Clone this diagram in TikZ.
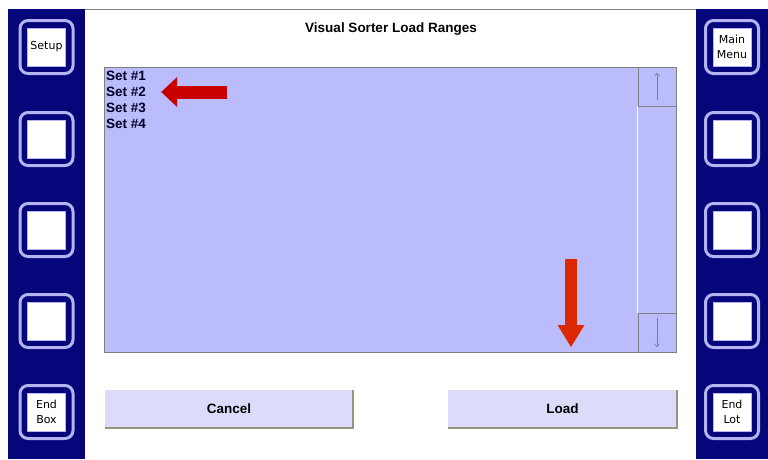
\documentclass[tikz,border=0pt]{standalone}
\usepackage{fontspec}
\setmainfont{Liberation Sans}
\newfontfamily\keyfont{DejaVu Sans}
\usetikzlibrary{arrows.meta,positioning}
\definecolor{panelnavy}{RGB}{6,6,122}
\definecolor{keyrim}{RGB}{180,180,240}
\definecolor{listfill}{RGB}{186,188,252}
\definecolor{btnfill}{RGB}{220,220,250}
\definecolor{btnshade}{RGB}{150,150,128}
\definecolor{arrowred}{RGB}{200,0,0}
\definecolor{arroworange}{RGB}{220,40,0}
\tikzset{
  side key/.style={draw=keyrim,line width=3pt,fill=panelnavy,rounded corners=8pt,minimum size=53pt,inner sep=0pt},
  key face/.style={draw=keyrim,line width=0.8pt,fill=white,minimum size=38pt,inner sep=0pt,align=center,font=\keyfont\fontsize{11}{15}\selectfont},
  set item/.style={anchor=west,inner sep=0pt,text=black!85!blue,font=\bfseries\fontsize{13.5}{16}\selectfont},
  cmd button/.style={fill=btnfill,minimum height=38pt,inner sep=0pt,font=\bfseries\fontsize{13.5}{16}\selectfont},
  cmd shade/.style={btnshade,line width=1.5pt},
  scroll box/.style={draw=gray,fill=listfill,minimum width=38pt,minimum height=39pt,inner sep=0pt},
  scroll arrow/.style={gray,line width=0.6pt,-{Straight Barb[length=3pt,width=5pt]}},
  left pointer/.style={arrowred,line width=13pt,-{Triangle[length=16pt,width=30pt,line width=0pt]}},
  drop pointer/.style={arroworange,line width=12pt,-{Triangle[length=22pt,width=27pt,line width=0pt]}},
}
\begin{document}
\begin{tikzpicture}[x=1pt,y=-1pt]
  \useasboundingbox[fill=white] (0,0) rectangle (768,459);
  % side panels
  \fill[panelnavy] (8,9) rectangle (85,459);
  \fill[panelnavy] (696,9) rectangle (768,459);
  \draw[gray] (85,9.5) -- (696,9.5);
  \foreach \i/\y/\txt in {1/47/Setup,2/139/,3/230/,4/321/,5/412/{End\\Box}}{
    \node[side key] (lk\i) at (46.5,\y) {};
    \node[key face] (lk\i face) at (lk\i.center) {\txt};
  }
  \foreach \i/\y/\txt in {1/47/{Main\\Menu},2/139/,3/230/,4/321/,5/412/{End\\Lot}}{
    \node[side key] (rk\i) at (732,\y) {};
    \node[key face] (rk\i face) at (rk\i.center) {\txt};
  }
  % title and list
  \node[font=\bfseries\fontsize{13.5}{16}\selectfont] (title) at (391,29) {Visual Sorter Load Ranges};
  \node[draw=gray,fill=listfill,minimum width=572pt,minimum height=285pt,inner sep=0pt] (setlist) at (390,209.5) {};
  \node[scroll box,anchor=north east] (upbox) at (setlist.north east) {};
  \node[scroll box,anchor=south east] (downbox) at (setlist.south east) {};
  \draw[white,line width=1pt] (upbox.south west) -- (downbox.north west);
  \draw[scroll arrow] ([yshift=6pt]upbox.south) -- ([yshift=-6pt]upbox.north);
  \draw[scroll arrow] ([yshift=-5pt]downbox.north) -- ([yshift=5pt]downbox.south);
  \foreach \i/\y in {1/76,2/92,3/108,4/124}{
    \node[set item] (set\i) at (106,\y) {Set \#\i};
  }
  % buttons
  \node[cmd button,minimum width=248pt] (cancel) at (229,409) {Cancel};
  \node[cmd button,minimum width=229pt] (load) at (562.5,409) {Load};
  \draw[cmd shade] (cancel.south west) -- (cancel.south east) -- (cancel.north east);
  \draw[cmd shade] (load.south west) -- (load.south east) -- (load.north east);
  % pointers
  \draw[left pointer] ([xshift=81pt]set2.east) -- ([xshift=15pt]set2.east);
  \coordinate (drop top) at (571,259);
  \coordinate (drop tip) at (571,347);
  \draw[drop pointer] (drop top) -- (drop tip);
\end{tikzpicture}
\end{document}
